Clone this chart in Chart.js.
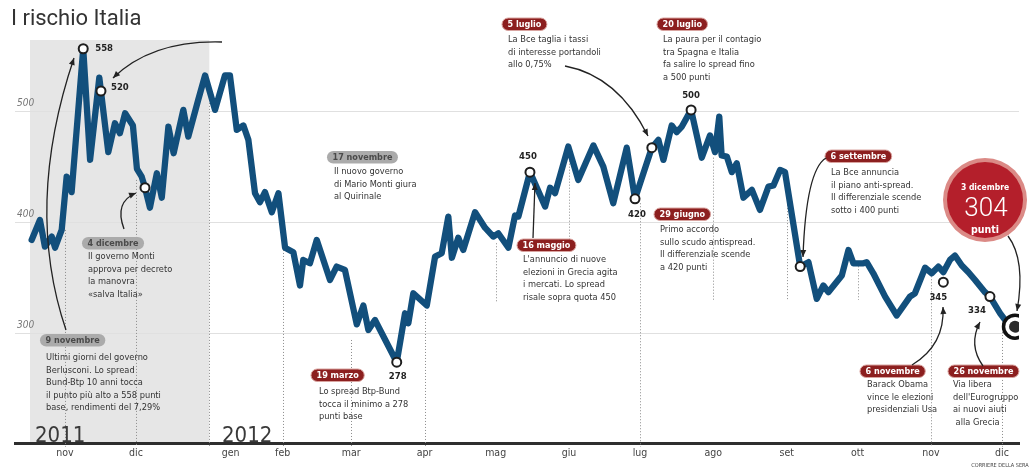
<!DOCTYPE html>
<html>
<head>
<meta charset="utf-8">
<script src="https://cdn.jsdelivr.net/npm/chart.js@4.4.0/dist/chart.umd.min.js"></script>
<style>
html, body { margin: 0; padding: 0; background: #fff; }
#wrap { width: 1034px; height: 470px; position: relative; }
</style>
</head>
<body>
<div id="wrap"><canvas id="spreadChart"></canvas></div>
<script>
const NARROW = '"DejaVu Sans Condensed", "DejaVu Sans", sans-serif';

// days counted from 1 Nov 2011, spread in basis points
const days = [-14.1, -10.6, -8.5, -5.6, -4.2, -1.4, 0.7, 2.8, 7.7, 10.6, 14.5, 18.3, 21.1, 23.2, 25.4, 28.7, 30.4, 32.4, 33.8, 35.9,
  38.8, 40.9, 43.7, 45.9, 50, 52.1, 56.3, 59.2, 63.4, 67.6, 69.7, 72.6, 75.4, 77.5, 80.3, 82.4, 84.5, 87.4, 90.2, 93,
  96.5, 99.3, 100.7, 103.5, 106.4, 112, 114.8, 118.3, 123.3, 126.1, 128.2, 131, 140.2, 143.7, 145.1, 147.2, 152.9, 156.4, 159.2, 162,
  163.5, 166.2, 168.3, 173.3, 177.5, 181, 183.1, 187.4, 190.2, 191.6, 196.5, 202.9, 205, 207.1, 212.7, 216.9, 223.3, 227.5, 231.7, 237.4,
  240.9, 248, 250.8, 252.9, 256.4, 258.5, 260.7, 264.6, 269.1, 272.6, 274.7, 276.5, 277.5, 279.7, 281.8, 283.9, 286.7, 290.3, 293.7, 297.3,
  299.4, 302.2, 304.3, 310.7, 314.2, 317.7, 320.5, 322.6, 328.3, 331.1, 333.2, 337.4, 338.8, 341.6, 346.6, 351.5, 357.1, 359.2, 363.5, 366.3,
  369.1, 371.2, 374, 376.1, 379, 381.8, 384.6, 388.8, 390.9, 395.2, 398, 401.5];
const spread = [384, 402, 378, 387, 377, 393, 441, 427, 556, 456, 530, 463, 489, 480, 498, 487, 448, 441, 431, 413,
  444, 422, 486, 462, 501, 477, 510, 532, 501, 532, 532, 483, 487, 474, 426, 418, 427, 409, 426, 377,
  373, 343, 366, 363, 384, 348, 360, 357, 308, 325, 303, 312, 274, 318, 309, 336, 325, 369, 372, 405,
  368, 386, 375, 409, 395, 387, 390, 377, 406, 405, 445, 414, 431, 426, 468, 438, 469, 450, 417, 467,
  421, 467, 474, 456, 487, 481, 486, 501, 458, 478, 463, 495, 460, 459, 445, 453, 422, 429, 411, 432,
  433, 447, 445, 360, 364, 331, 343, 337, 352, 375, 363, 363, 364, 354, 333, 316, 333, 336, 359, 354,
  360, 355, 366, 370, 361, 355, 348, 337, 333, 318, 310, 306];

// highlighted points
const markerDays = [7.7, 15.2, 33.8, 140.2, 196.5, 240.9, 248, 264.6, 310.7, 371.2, 390.9];
const markerValues = [556, 518, 431, 274, 445, 421, 467, 501, 360, 346, 333];
const markerLabels = ['558', '520', '', '278', '450', '420', '', '500', '', '345', '334'];
const lastDay = [401.5];
const lastValue = [306];

const monthDays = [0, 30, 61, 92, 121, 152, 182, 213, 243, 274, 305, 335, 366, 396];
const monthTickDays = [0, 30, 70, 92, 121, 152, 182, 213, 243, 274, 305, 335, 366, 396];
const monthLabels = ['nov', 'dic', 'gen', 'feb', 'mar', 'apr', 'mag', 'giu', 'lug', 'ago', 'set', 'ott', 'nov', 'dic'];
const yTicks = [300, 400, 500];

// pixel mapping of the original drawing
const DAY0_PX = 65, PX_PER_DAY = 2.3662, BP300_PX = 333.3, PX_PER_BP = 1.1115;

// dotted month guides: [top, bottom] in spread units
const guides = [[393, 198], [438, 198], [510, 198], [375, 198], [294, 198], [321, 198], [381, 328], [458, 381],
  [417, 198], [458, 330], [445, 330], [363, 330], [354, 198], [312, 198]];

const labelPos = [[12, 0, 'left'], [10, -3, 'left'], null, [1, 14, 'center'], [-2, -16, 'center'], [2, 16, 'center'],
  null, [0, -14, 'center'], null, [-5, 15, 'center'], [-13, 14, 'center']];

const notes = [
  {x: 40, y: 334, date: '9 novembre', dark: false, tx: 46, ty: 358, lines: ['Ultimi giorni del governo', 'Berlusconi. Lo spread', 'Bund-Btp 10 anni tocca', 'il punto più alto a 558 punti', 'base, rendimenti del 7,29%']},
  {x: 82, y: 237, date: '4 dicembre', dark: false, tx: 88, ty: 257, lines: ['Il governo Monti', 'approva per decreto', 'la manovra', '«salva Italia»']},
  {x: 327, y: 151, date: '17 novembre', dark: false, tx: 334, ty: 172, lines: ['Il nuovo governo', 'di Mario Monti giura', 'al Quirinale']},
  {x: 311, y: 369, date: '19 marzo', dark: true, tx: 319, ty: 392, lines: ['Lo spread Btp-Bund', 'tocca il minimo a 278', 'punti base']},
  {x: 517, y: 239, date: '16 maggio', dark: true, tx: 523, ty: 260, lines: ["L'annuncio di nuove", 'elezioni in Grecia agita', 'i mercati. Lo spread', 'risale sopra quota 450']},
  {x: 502, y: 18, date: '5 luglio', dark: true, tx: 508, ty: 40, lines: ['La Bce taglia i tassi', 'di interesse portandoli', 'allo 0,75%']},
  {x: 657, y: 18, date: '20 luglio', dark: true, tx: 663, ty: 40, lines: ['La paura per il contagio', 'tra Spagna e Italia', 'fa salire lo spread fino', 'a 500 punti']},
  {x: 654, y: 208, date: '29 giugno', dark: true, tx: 660, ty: 230, lines: ['Primo accordo', 'sullo scudo antispread.', 'Il differenziale scende', 'a 420 punti']},
  {x: 825, y: 150, date: '6 settembre', dark: true, tx: 831, ty: 173, lines: ['La Bce annuncia', 'il piano anti-spread.', 'Il differenziale scende', 'sotto i 400 punti']},
  {x: 860, y: 365, date: '6 novembre', dark: true, tx: 867, ty: 385, lines: ['Barack Obama', 'vince le elezioni', 'presidenziali Usa']},
  {x: 948, y: 365, date: '26 novembre', dark: true, tx: 953, ty: 385, lines: ['Via libera', "dell'Eurogruppo", 'ai nuovi aiuti', ' alla Grecia']}
];

// start, control, end
const arrows = [
  [66, 330, 24, 206, 74, 58],
  [222, 42, 152, 40, 113, 78],
  [124, 229, 114, 202, 136, 193],
  [533, 238, 534, 210, 535, 183],
  [565, 66, 618, 76, 648, 136],
  [826, 158, 806, 170, 803, 257],
  [912, 365, 945, 345, 943, 307],
  [983, 366, 968, 345, 980, 322],
  [1008, 236, 1026, 260, 1017, 311]
];

function pill(ctx, x, y, text, dark) {
  ctx.font = 'bold 9px ' + NARROW;
  const w = ctx.measureText(text).width + 11, h = 12.5;
  ctx.beginPath();
  ctx.roundRect(x, y, w, h, 6.25);
  ctx.fillStyle = dark ? '#8c1f1f' : '#ababab';
  ctx.fill();
  if (dark) {
    ctx.strokeStyle = '#d9a4a0';
    ctx.lineWidth = 1;
    ctx.stroke();
  }
  ctx.fillStyle = dark ? '#fff' : '#4a4a4a';
  ctx.textAlign = 'left';
  ctx.textBaseline = 'middle';
  ctx.fillText(text, x + 5.5, y + h / 2 + 0.5);
}

function arrow(ctx, a) {
  ctx.beginPath();
  ctx.moveTo(a[0], a[1]);
  ctx.quadraticCurveTo(a[2], a[3], a[4], a[5]);
  ctx.strokeStyle = '#222';
  ctx.lineWidth = 1.3;
  ctx.stroke();
  const ang = Math.atan2(a[5] - a[3], a[4] - a[2]);
  ctx.beginPath();
  ctx.moveTo(a[4], a[5]);
  ctx.lineTo(a[4] - 7 * Math.cos(ang) + 3 * Math.sin(ang), a[5] - 7 * Math.sin(ang) - 3 * Math.cos(ang));
  ctx.lineTo(a[4] - 7 * Math.cos(ang) - 3 * Math.sin(ang), a[5] - 7 * Math.sin(ang) + 3 * Math.cos(ang));
  ctx.closePath();
  ctx.fillStyle = '#222';
  ctx.fill();
}

const decor = {
  id: 'decor',
  beforeDraw(chart) {
    const {ctx, scales: {x}} = chart;
    // 2011 shaded block
    ctx.save();
    ctx.fillStyle = '#e6e6e6';
    const x0 = x.getPixelForValue(-14.8), x1 = x.getPixelForValue(61);
    const y0 = 40, y1 = chart.chartArea.bottom;
    ctx.fillRect(x0, y0, x1 - x0, y1 - y0);
    ctx.restore();
  },
  beforeDatasetsDraw(chart) {
    const {ctx, scales: {x, y}} = chart;
    ctx.save();
    ctx.strokeStyle = '#8c8c8c';
    ctx.lineWidth = 1;
    ctx.setLineDash([1, 2]);
    monthDays.forEach((d, i) => {
      const px = Math.round(x.getPixelForValue(d)) + 0.5;
      ctx.beginPath();
      ctx.moveTo(px, y.getPixelForValue(guides[i][0]));
      ctx.lineTo(px, y.getPixelForValue(guides[i][1]));
      ctx.stroke();
    });
    ctx.restore();
  },
  afterDatasetsDraw(chart) {
    const {ctx, scales: {x, y}} = chart;
    ctx.save();
    // title and years
    ctx.fillStyle = '#333';
    ctx.textAlign = 'left';
    ctx.textBaseline = 'alphabetic';
    ctx.font = '22px Roboto, sans-serif';
    ctx.fillText('I rischio Italia', 11, 25);
    ctx.font = '22px ' + NARROW;
    ctx.fillStyle = '#3a3a3a';
    ctx.fillText('2011', 35, 442);
    ctx.fillText('2012', 222, 442);

    // value labels next to markers
    ctx.font = 'bold 9.5px ' + NARROW;
    ctx.fillStyle = '#222';
    ctx.textBaseline = 'middle';
    markerLabels.forEach((t, i) => {
      if (!t) return;
      const p = labelPos[i];
      ctx.textAlign = p[2];
      ctx.fillText(t, x.getPixelForValue(markerDays[i]) + p[0], y.getPixelForValue(markerValues[i]) + p[1]);
    });

    // notes
    notes.forEach(n => {
      pill(ctx, n.x, n.y, n.date, n.dark);
      ctx.font = '9.2px ' + NARROW;
      ctx.fillStyle = '#333';
      ctx.textAlign = 'left';
      ctx.textBaseline = 'middle';
      n.lines.forEach((t, i) => ctx.fillText(t, n.tx, n.ty + i * 12.4));
    });

    arrows.forEach(a => arrow(ctx, a));

    // big red badge
    const cx = 985, cy = 200;
    ctx.beginPath();
    ctx.arc(cx, cy, 42, 0, Math.PI * 2);
    ctx.fillStyle = '#db8a86';
    ctx.fill();
    ctx.beginPath();
    ctx.arc(cx, cy, 38, 0, Math.PI * 2);
    ctx.fillStyle = '#b41f2b';
    ctx.fill();
    ctx.fillStyle = '#fff';
    ctx.textAlign = 'center';
    ctx.font = 'bold 8.5px ' + NARROW;
    ctx.fillText('3 dicembre', cx, cy - 12);
    ctx.font = '300 26px Roboto, sans-serif';
    ctx.fillText('304', cx + 1, cy + 9);
    ctx.font = 'bold 10.5px ' + NARROW;
    ctx.fillText('punti', cx, cy + 30);

    ctx.font = '5.5px ' + NARROW;
    ctx.fillStyle = '#444';
    ctx.fillText('CORRIERE DELLA SERA', 1000, 466);
    ctx.restore();
  }
};

const chart = new Chart(document.getElementById('spreadChart'), {
  type: 'line',
  data: {
    datasets: [
      {
        data: markerDays.map((d, i) => ({x: d, y: markerValues[i]})),
        showLine: false,
        pointRadius: 4.5,
        pointBackgroundColor: '#fff',
        pointBorderColor: '#1e1e1e',
        pointBorderWidth: 2,
        order: 1
      },
      {
        data: lastDay.map((d, i) => ({x: d, y: lastValue[i]})),
        showLine: false,
        pointRadius: 6,
        pointBackgroundColor: '#2b2b2b',
        pointBorderWidth: 0,
        order: 1
      },
      {
        data: lastDay.map((d, i) => ({x: d, y: lastValue[i]})),
        showLine: false,
        pointRadius: 11.5,
        pointBackgroundColor: '#fff',
        pointBorderColor: '#111',
        pointBorderWidth: 3.5,
        order: 2
      },
      {
        data: days.map((d, i) => ({x: d, y: spread[i]})),
        borderColor: '#124f7c',
        borderWidth: 6.3,
        borderJoinStyle: 'round',
        borderCapStyle: 'round',
        pointRadius: 0,
        tension: 0,
        order: 3
      }
    ]
  },
  options: {
    responsive: true,
    maintainAspectRatio: false,
    animation: false,
    layout: {padding: {left: -6, right: 14, top: 0, bottom: 6}},
    plugins: {legend: {display: false}, tooltip: {enabled: false}},
    scales: {
      x: {
        type: 'linear',
        min: -24,
        max: 404,
        afterBuildTicks: s => { s.ticks = monthTickDays.map(v => ({value: v})); },
        grid: {display: false, drawTicks: false},
        border: {display: true, color: '#2e2e2e', width: 3},
        ticks: {
          autoSkip: false,
          maxRotation: 0,
          padding: 4,
          color: '#444',
          font: {family: NARROW, size: 10.5},
          callback: (v, i) => monthLabels[i]
        }
      },
      y: {
        min: 198,
        max: 600,
        afterBuildTicks: s => { s.ticks = yTicks.map(v => ({value: v})); },
        grid: {color: '#e0e0e0', lineWidth: 1, drawTicks: false},
        border: {display: false},
        ticks: {
          mirror: true,
          padding: 2,
          labelOffset: -8,
          color: '#777',
          font: {family: NARROW, size: 10, style: 'italic'}
        }
      }
    }
  },
  plugins: [decor]
});

// second pass: fit the scale limits to the original pixel mapping
const area = chart.chartArea;
chart.options.scales.x.min = (area.left - DAY0_PX) / PX_PER_DAY;
chart.options.scales.x.max = (area.right - DAY0_PX) / PX_PER_DAY;
chart.options.scales.y.max = 300 + (BP300_PX - area.top) / PX_PER_BP;
chart.options.scales.y.min = 300 - (area.bottom - BP300_PX) / PX_PER_BP;
chart.update();
</script>
</body>
</html>
